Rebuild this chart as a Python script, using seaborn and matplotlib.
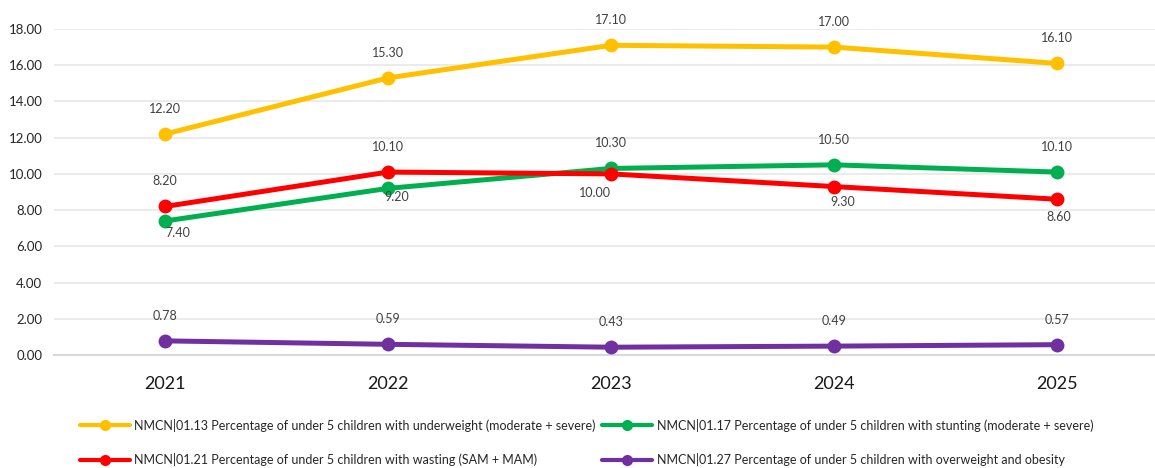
import matplotlib
matplotlib.use("Agg")
import matplotlib.pyplot as plt
from matplotlib.lines import Line2D
import seaborn as sns
import pandas as pd

years = ["2021", "2022", "2023", "2024", "2025"]
underweight = [12.20, 15.30, 17.10, 17.00, 16.10]
stunting = [7.40, 9.20, 10.30, 10.50, 10.10]
wasting = [8.20, 10.10, 10.00, 9.30, 8.60]
overweight = [0.78, 0.59, 0.43, 0.49, 0.57]

series_names = [
    "NMCN|01.13 Percentage of under 5 children with underweight (moderate + severe)",
    "NMCN|01.17 Percentage of under 5 children with stunting (moderate + severe)",
    "NMCN|01.21 Percentage of under 5 children with wasting (SAM + MAM)",
    "NMCN|01.27 Percentage of under 5 children with overweight and obesity",
]
series_values = [underweight, stunting, wasting, overweight]
colors = ["#FFC000", "#00B050", "#FF0000", "#7030A0"]
# value label offsets (points) from each marker: positive dy = above
label_dy = [
    [18, 18, 18, 18, 18],
    [-8.6, -6.5, 18, 18, 18],
    [18, 18, -13.7, -10.8, -13],
    [18, 18, 18, 18, 18],
]
label_dx = [
    [0, 0, 0, 0, 0],
    [9, 6.5, 0, 0, 0],
    [0, 0, -11.5, 6.5, 1.5],
    [0, 0, 0, 0, 0],
]

sns.set_theme(style="white")
plt.rcParams["font.family"] = ["Lato", "DejaVu Sans"]

rows = []
for name, vals in zip(series_names, series_values):
    for i, (y, v) in enumerate(zip(years, vals)):
        rows.append({"year": i, "label": y, "series": name, "value": v})
df = pd.DataFrame(rows)

fig = plt.figure(figsize=(11.55, 4.68), dpi=100)
ax = fig.add_axes([53.5 / 1155, 113 / 468, 1115 / 1155, 326 / 468])

sns.lineplot(
    data=df, x="year", y="value", hue="series", hue_order=series_names,
    palette=colors, linewidth=3.6, marker="o", markersize=10,
    markeredgewidth=0, legend=False, ax=ax, zorder=3,
)

for vals, dys, dxs in zip(series_values, label_dy, label_dx):
    for i, v in enumerate(vals):
        ax.annotate(
            f"{v:.2f}", (i, v),
            xytext=(dxs[i], dys[i]), textcoords="offset points",
            ha="center", va="center",
            fontsize=9, color="#404040", zorder=5,
        )

ax.set_xlim(-0.5, 4.5)
ax.set_ylim(0, 18)
ax.set_yticks(range(0, 19, 2))
ax.set_yticklabels([f"{t:.2f}" for t in range(0, 19, 2)], fontsize=9.5, color="#262626")
ax.set_xticks(range(len(years)))
ax.set_xticklabels(years, fontsize=13, color="#1a1a1a")
ax.tick_params(axis="x", length=0, pad=15)
ax.tick_params(axis="y", length=0, pad=8)
ax.set_xlabel("")
ax.set_ylabel("")
ax.grid(axis="y", color="#EBEBEB", linewidth=1.5)
ax.set_axisbelow(True)
for side in ["top", "right", "left"]:
    ax.spines[side].set_visible(False)
ax.spines["bottom"].set_color("#D9D9D9")
ax.spines["bottom"].set_linewidth(1.5)

handles = [
    Line2D([0], [0], color=c, lw=3.0, marker="o", markersize=8, markeredgewidth=0)
    for c in colors
]
order = [0, 2, 1, 3]
fig.legend(
    [handles[i] for i in order], [series_names[i] for i in order],
    ncol=2, loc="lower left", bbox_to_anchor=(72 / 1155, -6 / 468),
    frameon=False, fontsize=9.0, handlelength=4.0, handletextpad=0.4,
    columnspacing=0.5, labelspacing=1.75, borderaxespad=0.2,
)

fig.savefig("out.png", dpi=100)
